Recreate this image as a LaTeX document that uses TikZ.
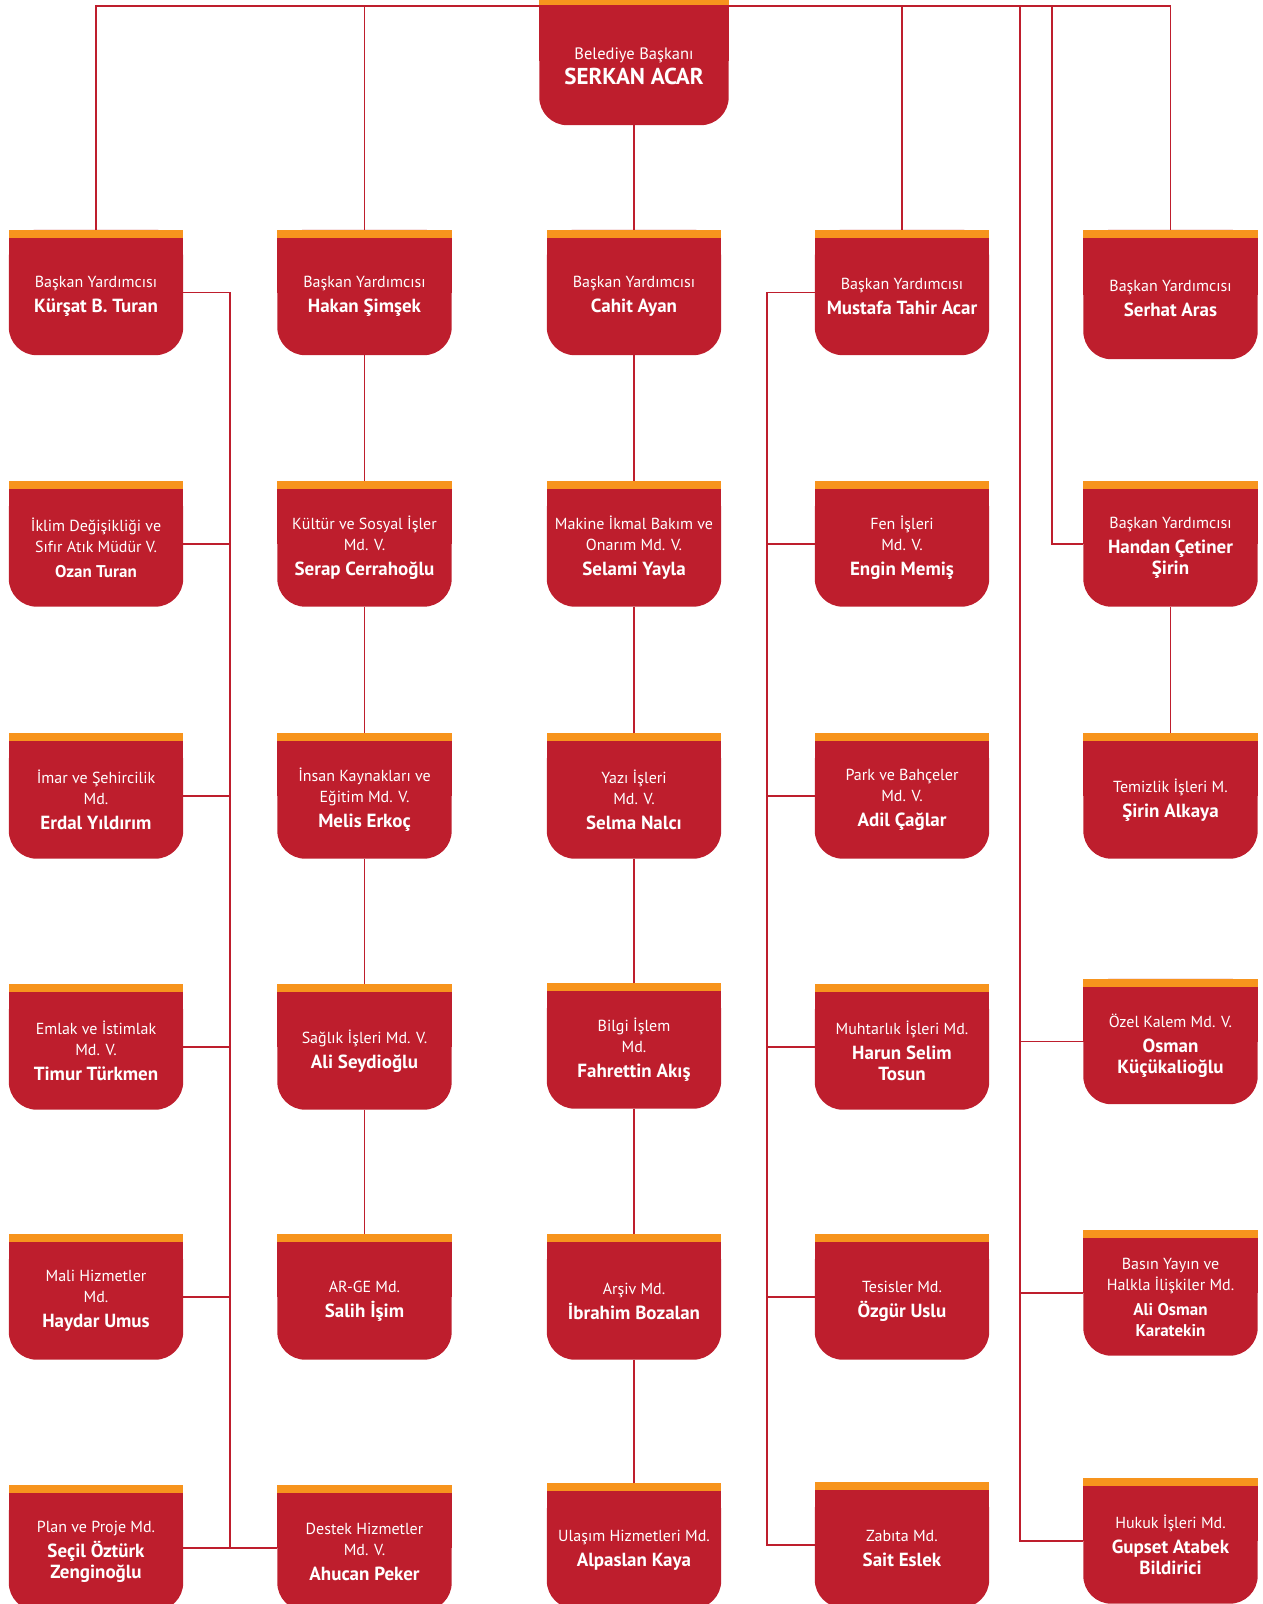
\documentclass[tikz,border=0pt]{standalone}
\usepackage{fontspec}
\setmainfont{PT Sans}
\definecolor{obred}{HTML}{BE1E2D}
\definecolor{oborange}{HTML}{F7941D}
\pgfdeclarelayer{lines}
\pgfdeclarelayer{boxes}
\pgfsetlayers{lines,boxes,main}
\tikzset{
  obshape/.style={minimum width=174pt, minimum height=125pt, inner sep=0pt},
  obtext/.style={inner sep=0pt, align=center, text=white, font=\fontsize{16}{21}\selectfont},
  link/.style={draw=obred, line width=1.6pt},
}
\newcommand\nm[1]{{\fontsize{19}{21}\selectfont\bfseries #1}}
\newcommand\nms[1]{{\fontsize{17}{19}\selectfont\bfseries #1}}
\newcommand\obx[5][]{%
  \node[obshape,#1] (#2) at (#3,#4) {};
  \node[obtext] (#2t) at ([yshift=-4pt]#2.center) {#5};}
\newcommand\boxbg[1]{%
  \begin{pgfonlayer}{boxes}
    \fill[obred, rounded corners=28pt] (#1.north west) rectangle (#1.south east);
    \fill[obred] (#1.north west) rectangle (#1.east);
    \fill[oborange] (#1.north west) rectangle ([yshift=-8pt]#1.north east);
  \end{pgfonlayer}}
\begin{document}
\begin{tikzpicture}[x=1pt,y=-1pt]
\useasboundingbox (0,0) rectangle (1262,1604);
% top
\node[obshape, minimum width=189pt, minimum height=128pt] (c0) at (634,61) {};
\node[obtext, font=\fontsize{16.5}{21}\selectfont] (c0t) at ([yshift=-5pt]c0.center)
  {Belediye Başkanı\\[4pt]{\fontsize{23}{24}\selectfont\bfseries SERKAN ACAR}};
% column 1
\obx{a1}{96}{292.5}{Başkan Yardımcısı\\[4pt]\nm{Kürşat B. Turan}}
\obx{a2}{96}{544}{İklim Değişikliği ve\\Sıfır Atık Müdür V.\\[4pt]\nms{Ozan Turan}}
\obx{a3}{96}{796}{İmar ve Şehircilik\\Md.\\[4pt]\nm{Erdal Yıldırım}}
\obx{a4}{96}{1047}{Emlak ve İstimlak\\Md. V.\\[4pt]\nm{Timur Türkmen}}
\obx{a5}{96}{1297}{Mali Hizmetler\\Md.\\[4pt]\nm{Haydar Umus}}
\obx{a6}{96}{1548}{Plan ve Proje Md.\\[4pt]\nm{Seçil Öztürk}\\\nm{Zenginoğlu}}
% column 2
\obx{b1}{364.5}{292.5}{Başkan Yardımcısı\\[4pt]\nm{Hakan Şimşek}}
\obx{b2}{364.5}{544}{Kültür ve Sosyal İşler\\Md. V.\\[4pt]\nm{Serap Cerrahoğlu}}
\obx{b3}{364.5}{796}{İnsan Kaynakları ve\\Eğitim Md. V.\\[4pt]\nm{Melis Erkoç}}
\obx{b4}{364.5}{1047}{Sağlık İşleri Md. V.\\[4pt]\nm{Ali Seydioğlu}}
\obx{b5}{364.5}{1297}{AR-GE Md.\\[4pt]\nm{Salih İşim}}
\obx{b6}{364.5}{1548}{Destek Hizmetler\\Md. V.\\[4pt]\nm{Ahucan Peker}}
% column 3
\obx{c1}{634}{292.5}{Başkan Yardımcısı\\[4pt]\nm{Cahit Ayan}}
\obx{c2}{634}{544}{Makine İkmal Bakım ve\\Onarım Md. V.\\[4pt]\nm{Selami Yayla}}
\obx{c3}{634}{796}{Yazı İşleri\\Md. V.\\[4pt]\nm{Selma Nalcı}}
\obx{c4}{634}{1046}{Bilgi İşlem\\Md.\\[4pt]\nm{Fahrettin Akış}}
\obx{c5}{634}{1297}{Arşiv Md.\\[4pt]\nm{İbrahim Bozalan}}
\obx{c6}{634}{1546}{Ulaşım Hizmetleri Md.\\[4pt]\nm{Alpaslan Kaya}}
% column 4
\obx{d1}{902}{292.5}{Başkan Yardımcısı\\[4pt]\nm{Mustafa Tahir Acar}}
\obx{d2}{902}{544}{Fen İşleri\\Md. V.\\[4pt]\nm{Engin Memiş}}
\obx{d3}{902}{796}{Park ve Bahçeler\\Md. V.\\[4pt]\nm{Adil Çağlar}}
\obx{d4}{902}{1047}{Muhtarlık İşleri Md.\\[4pt]\nm{Harun Selim}\\\nm{Tosun}}
\obx{d5}{902}{1297}{Tesisler Md.\\[4pt]\nm{Özgür Uslu}}
\obx{d6}{902}{1545}{Zabıta Md.\\[4pt]\nm{Sait Eslek}}
% column 5
\obx[minimum height=129pt]{e1}{1170.5}{294.5}{Başkan Yardımcısı\\[4pt]\nm{Serhat Aras}}
\obx{e2}{1170.5}{544}{Başkan Yardımcısı\\[4pt]\nm{Handan Çetiner}\\\nm{Şirin}}
\obx{e3}{1170.5}{796}{Temizlik İşleri M.\\[4pt]\nm{Şirin Alkaya}}
\obx{e4}{1170.5}{1041.5}{Özel Kalem Md. V.\\[4pt]\nm{Osman}\\\nm{Küçükalioğlu}}
\obx{e5}{1170.5}{1293}{Basın Yayın ve\\Halkla İlişkiler Md.\\[4pt]\nms{Ali Osman}\\\nms{Karatekin}}
\obx{e6}{1170.5}{1541}{Hukuk İşleri Md.\\[4pt]\nm{Gupset Atabek}\\\nm{Bildirici}}
% box backgrounds
\foreach \n in {c0,a1,a2,a3,a4,a5,a6,b1,b2,b3,b4,b5,b6,c1,c2,c3,c4,c5,c6,d1,d2,d3,d4,d5,d6,e1,e2,e3,e4,e5,e6}
  {\boxbg{\n}}
% connectors
\coordinate (tl) at (0,6);
\coordinate (lbus) at (230,0);
\coordinate (rbus) at (767,0);
\coordinate (fbus) at (1020,6);
\coordinate (hbus) at (1052,6);
\begin{pgfonlayer}{lines}
\draw[link] (a1.north) -- (a1.north |- tl) -- (e1.north |- tl) -- (e1.north);
\draw[link] (b1.north) -- (b1.north |- tl);
\draw[link] (d1.north) -- (d1.north |- tl);
\draw[link] (fbus) |- (e6.west);
\draw[link] (fbus |- e4.west) -- (e4.west);
\draw[link] (fbus |- e5.west) -- (e5.west);
\draw[link] (hbus) |- (e2.west);
\draw[link] (e2.south) -- (e3.north);
% column 1 bus
\draw[link] (a1.east) -| (lbus |- a6.east) -- (a6.east);
\draw[link] (lbus |- b6.west) -- (b6.west);
\foreach \n in {a2,a3,a4,a5} {\draw[link] (\n.east) -- (lbus |- \n.east);}
% column 2 chain
\draw[link] (b1.south) -- (b2.north);
\draw[link] (b2.south) -- (b3.north);
\draw[link] (b3.south) -- (b4.north);
\draw[link] (b4.south) -- (b5.north);
% column 3 chain
\draw[link] (c0.south) -- (c1.north);
\draw[link] (c1.south) -- (c2.north);
\draw[link] (c2.south) -- (c3.north);
\draw[link] (c3.south) -- (c4.north);
\draw[link] (c4.south) -- (c5.north);
\draw[link] (c5.south) -- (c6.north);
% column 4 bus
\draw[link] (d1.west) -| (rbus |- d6.west) -- (d6.west);
\foreach \n in {d2,d3,d4,d5} {\draw[link] (rbus |- \n.west) -- (\n.west);}
\end{pgfonlayer}
\end{tikzpicture}
\end{document}
